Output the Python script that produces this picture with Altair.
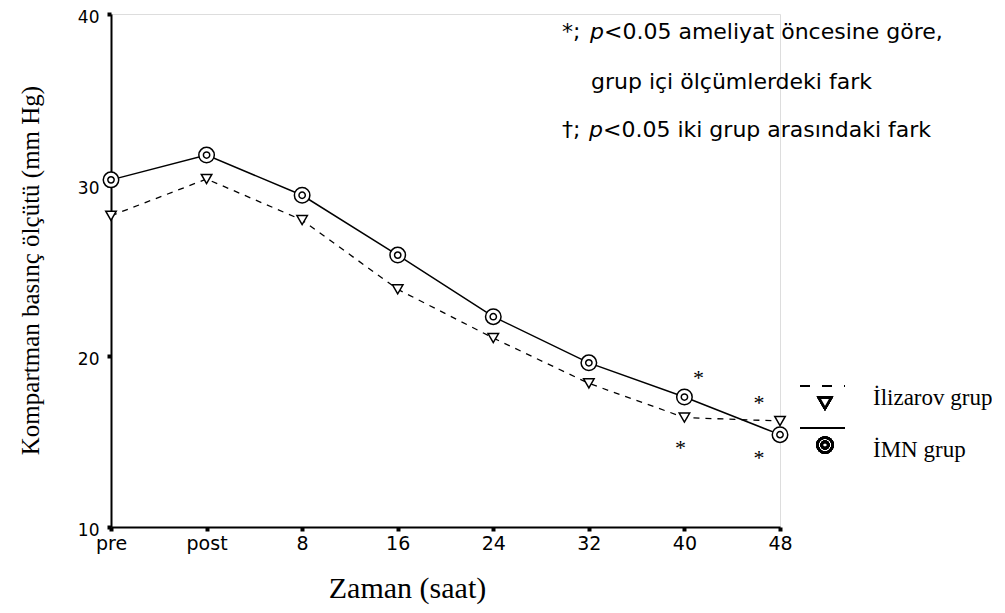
import altair as alt
import pandas as pd

# ---- data ----
times = ["pre", "post", "8", "16", "24", "32", "40", "48"]
imn = [30.3, 31.75, 29.4, 25.9, 22.3, 19.6, 17.6, 15.4]
ilizarov = [28.2, 30.35, 27.95, 23.9, 21.05, 18.4, 16.4, 16.2]

star_time = ["40", "40", "48", "48"]
star_val = [18.9, 14.8, 17.4, 14.2]
star_dx = [14, -4, -21, -21]

W, H = 669, 513

df_imn = pd.DataFrame({"t": times, "v": imn})
df_ili = pd.DataFrame({"t": times, "v": ilizarov})
df_star = pd.DataFrame({"t": star_time, "v": star_val, "dx": star_dx})

SANS = "DejaVu Sans"
SERIF = "Liberation Serif"

xenc = alt.X("t:O", sort=times, scale=alt.Scale(type="point", padding=0),
             axis=alt.Axis(title="Zaman (saat)", labelAngle=0, labelFont=SANS,
                           labelFontSize=19, labelColor="black", labelPadding=3,
                           tickSize=4, tickWidth=4, tickColor="black", domainColor="black",
                           domainWidth=2, titleFont=SERIF, titleFontSize=30,
                           titleFontWeight="normal", titleColor="black", titleX=296,
                           titleY=61, titleBaseline="middle"))
yenc = alt.Y("v:Q", scale=alt.Scale(domain=[10, 40]),
             axis=alt.Axis(title="Kompartman basınç ölçütü (mm Hg)", values=[10, 20, 30, 40],
                           labelFont=SANS, labelFontSize=17, labelColor="black",
                           labelPadding=8, labelOffset=3, tickSize=4, tickWidth=4, tickColor="black",
                           domainColor="black", domainWidth=2, grid=False,
                           titleFont=SERIF, titleFontSize=25,
                           titleFontWeight="normal", titleColor="black",
                           titleX=-81, titleY=256, titleBaseline="middle"))

line_ili = alt.Chart(df_ili).mark_line(color="black", strokeWidth=1.3, strokeDash=[6, 6]).encode(x=xenc, y=yenc)
line_imn = alt.Chart(df_imn).mark_line(color="black", strokeWidth=1.5).encode(x=xenc, y=yenc)
pts_ili = alt.Chart(df_ili).mark_point(shape="triangle-down", size=110, filled=True, fill="white",
                                       stroke="black", strokeWidth=1.5, opacity=1).encode(x=xenc, y=yenc)
pts_imn_o = alt.Chart(df_imn).mark_point(shape="circle", size=240, filled=True, fill="white",
                                         stroke="black", strokeWidth=1.5, opacity=1).encode(x=xenc, y=yenc)
pts_imn_i = alt.Chart(df_imn).mark_point(shape="circle", size=40, filled=False,
                                         stroke="black", strokeWidth=1.5, opacity=1).encode(x=xenc, y=yenc)
stars = alt.Chart(df_star).mark_text(text="*", font=SERIF, fontSize=22,
                                     baseline="middle", dy=3, color="black").encode(
    x=xenc, y=yenc, xOffset=alt.XOffset("dx:Q", scale=None))

# ---- legend (decoration) ----
leg_dash = alt.Chart(df_imn).mark_rule(color="black", strokeWidth=2, strokeDash=[10, 12]).encode(
    x=alt.value(689), x2=alt.value(734), y=alt.value(372))
leg_solid = alt.Chart(df_imn).mark_rule(color="black", strokeWidth=2).encode(
    x=alt.value(689), x2=alt.value(734), y=alt.value(414))
leg_tri = alt.Chart(df_imn).mark_point(shape="triangle-down", size=150, filled=True, fill="white",
                                       stroke="black", strokeWidth=2.5, opacity=1).encode(
    x=alt.value(714), y=alt.value(389))
leg_c1 = alt.Chart(df_imn).mark_point(shape="circle", size=230, filled=False, stroke="black",
                                      strokeWidth=2.5, opacity=1).encode(x=alt.value(714), y=alt.value(431))
leg_c2 = alt.Chart(df_imn).mark_point(shape="circle", size=45, filled=False, stroke="black",
                                      strokeWidth=2.5, opacity=1).encode(x=alt.value(714), y=alt.value(431))

def txt(s, x, y, font=SERIF, size=23, style="normal"):
    return alt.Chart(pd.DataFrame({"s": [s]})).mark_text(
        font=font, fontSize=size, fontStyle=style, align="left", baseline="middle", color="black"
    ).encode(text="s:N", x=alt.value(x), y=alt.value(y))

leg_t1 = txt("İlizarov grup", 762, 384)
leg_t2 = txt("İMN grup", 762, 436)

# ---- note text ----
NS = 22
notes = [
    txt("*;", 451, 18, SANS, NS),
    txt("p", 479, 18, SANS, NS, "italic"),
    txt("<0.05 ameliyat öncesine göre,", 493, 18, SANS, NS),
    txt("grup içi ölçümlerdeki fark", 480, 68, SANS, NS),
    txt("†;", 451, 116, SANS, NS),
    txt("p", 478, 116, SANS, NS, "italic"),
    txt("<0.05 iki grup arasındaki fark", 492, 116, SANS, NS),
]

chart = alt.layer(line_ili, line_imn, pts_ili, pts_imn_o, pts_imn_i, stars,
                  leg_dash, leg_solid, leg_tri, leg_c1, leg_c2, leg_t1, leg_t2, *notes).properties(
    width=W, height=H,
    autosize=alt.AutoSizeParams(type="none"),
    padding={"left": 103, "top": 6, "right": 212, "bottom": 78},
).configure_view(stroke=None).configure(background="white")

chart.save("out.html", embed_options={"renderer": "svg", "actions": False})
